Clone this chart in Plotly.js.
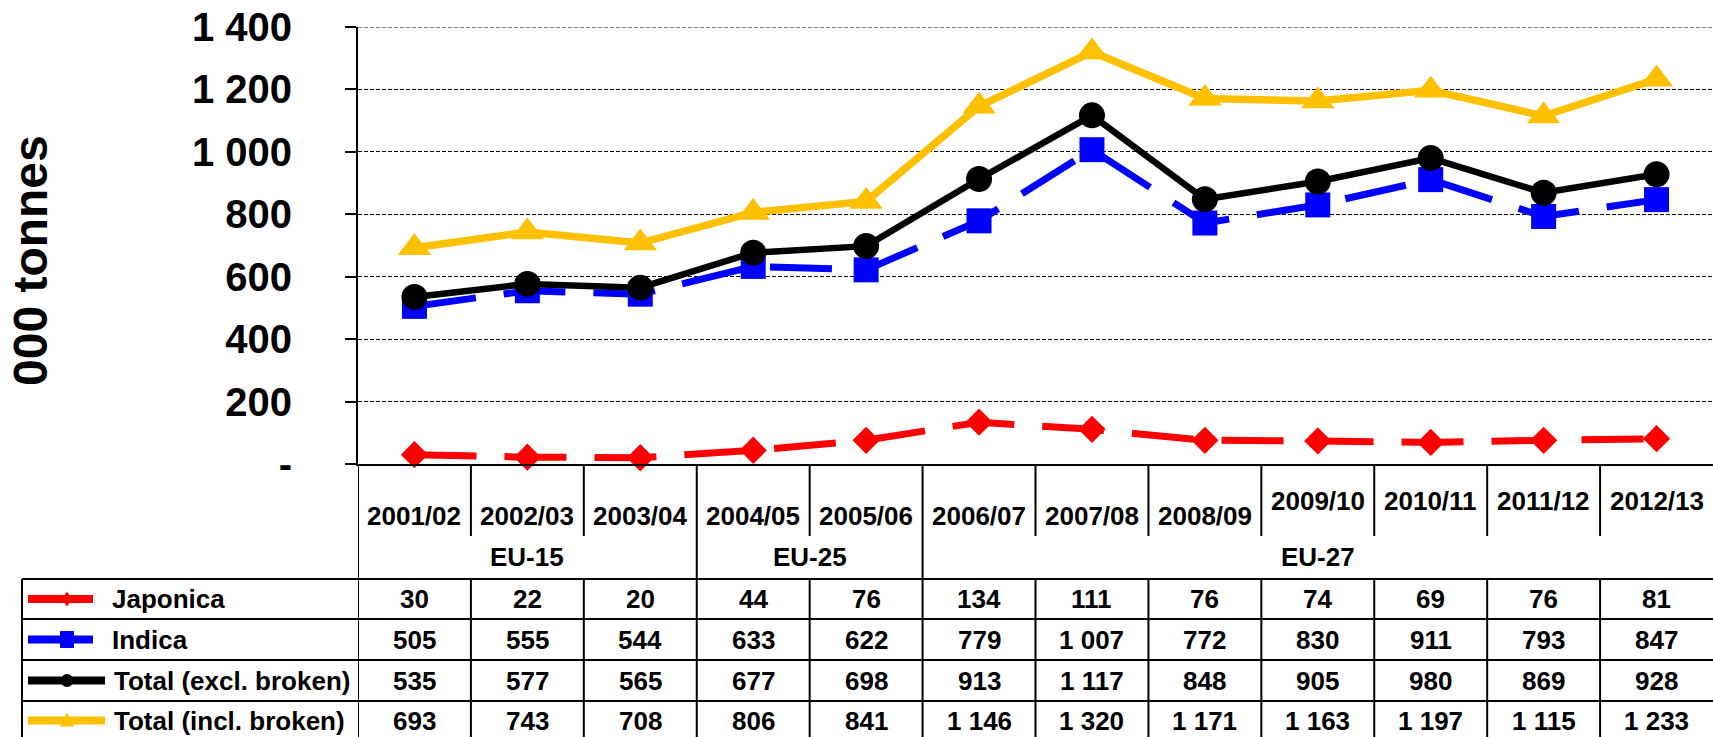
<!DOCTYPE html>
<html><head><meta charset="utf-8">
<script src="https://cdn.plot.ly/plotly-3.0.1.min.js"></script>
<style>html,body{margin:0;padding:0;background:#fff;overflow:hidden}</style>
</head><body><div id="chart" style="width:1713px;height:737px"></div>
<script>
const categories = ['2001/02','2002/03','2003/04','2004/05','2005/06','2006/07','2007/08','2008/09','2009/10','2010/11','2011/12','2012/13'];
const groupNames = ['EU-15','EU-25','EU-27'];
const groupSizes = [3, 2, 7];
const japonica  = [30, 22, 20, 44, 76, 134, 111, 76, 74, 69, 76, 81];
const indica    = [505, 555, 544, 633, 622, 779, 1007, 772, 830, 911, 793, 847];
const totalExcl = [535, 577, 565, 677, 698, 913, 1117, 848, 905, 980, 869, 928];
const totalIncl = [693, 743, 708, 806, 841, 1146, 1320, 1171, 1163, 1197, 1115, 1233];
const seriesNames = ['Japonica', 'Indica', 'Total (excl. broken)', 'Total (incl. broken)'];
const yTickVals = [0, 200, 400, 600, 800, 1000, 1200, 1400];
const yTickText = ['-', '200', '400', '600', '800', '1 000', '1 200', '1 400'];
const yTitle = '000 tonnes';

// ---- layout helpers (pixel geometry) ----
const W = 1713, H = 737, L = 358, T = 27, PB = 464;
const PW = W - L, PH = PB - T;
const px = v => (v - L) / PW;
const py = v => (PB - v) / PH;
const FONT = 'Liberation Sans, Arial, sans-serif';
const fmt = v => v >= 1000 ? Math.floor(v / 1000) + ' ' + String(v % 1000).padStart(3, '0') : String(v);

const seriesData = [japonica, indica, totalExcl, totalIncl];
const styles = [
  {color: '#FF0000', dash: '62px,28px', width: 7, symbol: 'diamond', size: 21},
  {color: '#0000FF', dash: '62px,28px', width: 7, symbol: 'square', size: 25},
  {color: '#000000', dash: 'solid', width: 6.5, symbol: 'circle', size: 26},
  {color: '#FFC000', dash: 'solid', width: 7.5, symbol: 'triangle-up', size: 29}
];
const xIdx = categories.map((c, i) => i);

const traces = seriesData.map((d, s) => ({
  type: 'scatter', mode: 'lines+markers', x: xIdx, y: d, name: seriesNames[s],
  line: {color: styles[s].color, width: styles[s].width, dash: styles[s].dash},
  marker: {color: styles[s].color, symbol: styles[s].symbol, size: styles[s].size, line: {width: 0}},
  cliponaxis: false, hoverinfo: 'skip'
}));

const shapes = [];
const lineStyle = {color: '#000', width: 2};
function vline(x, xref, y0, y1) { shapes.push({type: 'line', xref: xref, yref: 'paper', x0: x, x1: x, y0: py(y0), y1: py(y1), line: lineStyle}); }
function hline(y, x0, x1) { shapes.push({type: 'line', xref: 'paper', yref: 'paper', x0: px(x0), x1: px(x1), y0: py(y), y1: py(y), line: lineStyle}); }

// group boundaries
const groupBounds = new Set();
let acc = 0;
groupSizes.forEach(n => { groupBounds.add(acc); acc += n; });
vline(-0.5, 'x', PB, H);
for (let k = 1; k < categories.length; k++) {
  if (groupBounds.has(k)) vline(k - 0.5, 'x', PB, H);
  else { vline(k - 0.5, 'x', PB, 536); vline(k - 0.5, 'x', 579, H); }
}
const rowLines = [579, 619, 660, 701];
rowLines.forEach(y => hline(y, 22, W));
shapes.push({type: 'line', xref: 'paper', yref: 'paper', x0: px(22), x1: px(22), y0: py(579), y1: py(H), line: lineStyle});
// top gridline (1400)
shapes.push({type: 'line', xref: 'paper', yref: 'y', x0: 0, x1: 1, y0: 1400, y1: 1400, line: {color: '#000', width: 1, dash: '4px,2px'}});

// legend samples inside the table
const rowCenters = [599, 639.5, 680.5, 720.5];
const sampleEnds = [93, 93, 105, 105];
const markerX = 67;
seriesNames.forEach((n, s) => {
  const c = styles[s].color;
  shapes.push({type: 'line', xref: 'paper', yref: 'paper', x0: px(28), x1: px(sampleEnds[s]), y0: py(rowCenters[s]), y1: py(rowCenters[s]), line: {color: c, width: 8}});
  const base = {xref: 'paper', yref: 'paper', xsizemode: 'pixel', ysizemode: 'pixel', xanchor: px(markerX), yanchor: py(rowCenters[s]), fillcolor: c, line: {width: 0}};
  if (styles[s].symbol === 'diamond') shapes.push(Object.assign({type: 'path', path: 'M-5,0 L0,7.5 L5,0 L0,-7.5 Z'}, base));
  else if (styles[s].symbol === 'square') shapes.push(Object.assign({type: 'rect', x0: -7, x1: 7, y0: -8.5, y1: 8.5}, base));
  else if (styles[s].symbol === 'circle') shapes.push(Object.assign({type: 'circle', x0: -6.5, x1: 6.5, y0: -6.5, y1: 6.5}, base));
  else shapes.push(Object.assign({type: 'path', path: 'M-7,-6 L7,-6 L0,8 Z'}, base));
});

// annotations
const ann = [];
const tf = size => ({family: FONT, size: size, color: '#000', weight: 'bold'});
categories.forEach((c, i) => {
  ann.push({x: i, xref: 'x', y: py(i >= 8 ? 501 : 516), yref: 'paper', text: c, showarrow: false, xanchor: 'center', yanchor: 'middle', font: tf(26)});
});
acc = 0;
groupNames.forEach((g, j) => {
  const mid = acc + (groupSizes[j] - 1) / 2;
  ann.push({x: mid, xref: 'x', y: py(557), yref: 'paper', text: g, showarrow: false, xanchor: 'center', yanchor: 'middle', font: tf(26)});
  acc += groupSizes[j];
});
const labelX = [110, 110, 112, 112];
seriesData.forEach((d, s) => {
  ann.push({x: px(labelX[s]), xref: 'paper', y: py(rowCenters[s]), yref: 'paper', text: seriesNames[s], showarrow: false, xanchor: 'left', yanchor: 'middle', font: tf(26)});
  d.forEach((v, i) => {
    ann.push({x: i, xref: 'x', y: py(rowCenters[s]), yref: 'paper', text: fmt(v), showarrow: false, xanchor: 'center', yanchor: 'middle', font: tf(26)});
  });
});
ann.push({x: px(30), xref: 'paper', y: py(261), yref: 'paper', text: yTitle, textangle: -90, showarrow: false, xanchor: 'center', yanchor: 'middle', font: tf(48)});

const layout = {
  width: W, height: H,
  margin: {l: L, r: 0, t: T, b: H - PB, pad: 0},
  paper_bgcolor: '#fff', plot_bgcolor: '#fff',
  showlegend: false,
  font: {family: FONT, color: '#000'},
  xaxis: {range: [-0.5, categories.length - 0.5], showgrid: false, zeroline: false, showline: true, linecolor: '#000', linewidth: 2, showticklabels: false, ticks: '', fixedrange: true},
  yaxis: {range: [0, 1400], tickvals: yTickVals, ticktext: yTickText, ticks: 'outside', ticklen: 11, tickwidth: 2, tickcolor: '#000',
    showline: true, linecolor: '#000', linewidth: 2, showgrid: true, gridcolor: '#000', gridwidth: 1, griddash: '4px,2px', zeroline: false,
    tickfont: tf(40), ticklabelstandoff: 45, fixedrange: true},
  shapes: shapes,
  annotations: ann
};
Plotly.newPlot('chart', traces, layout, {staticPlot: true, displayModeBar: false});
</script></body></html>
